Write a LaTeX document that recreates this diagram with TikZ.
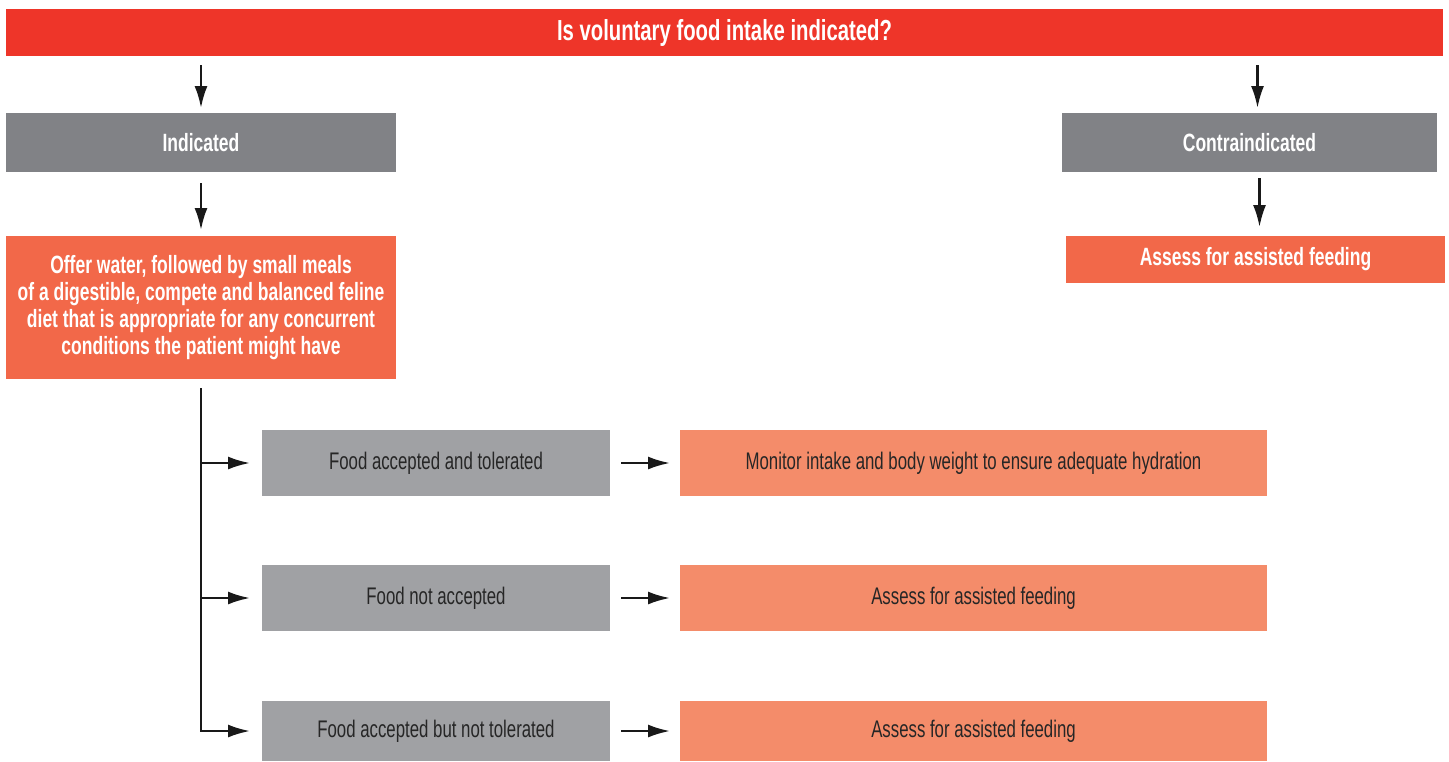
\documentclass[tikz,border=0pt]{standalone}
\usepackage{fontspec}
\setmainfont{Liberation Sans}[FakeStretch=0.7]
\usetikzlibrary{arrows.meta}
\definecolor{topred}{HTML}{EE3529}
\definecolor{darkgrey}{HTML}{818286}
\definecolor{lightgrey}{HTML}{A0A1A4}
\definecolor{offer}{HTML}{F26849}
\definecolor{salmon}{HTML}{F48C6A}
\begin{document}
\begin{tikzpicture}[x=0.5pt, y=-0.5pt,
    box/.style = {anchor=north west, inner sep=0pt, outer sep=0pt, align=center},
    head/.style = {box, text=white, font=\bfseries\fontsize{12.5}{13.5}\selectfont},
    sub/.style = {box, fill=lightgrey, text=black!85, minimum width=174pt, minimum height=33pt, font=\fontsize{12}{13}\selectfont},
    act/.style = {box, fill=salmon, text=black!85, minimum width=293.5pt, minimum height=33pt, font=\fontsize{12}{13}\selectfont},
    arr/.style = {-{Latex[length=11pt, width=6.5pt]}, line width=1.2pt, black!90}]
    \useasboundingbox (0,0) rectangle (1449,761);
    \node[head, fill=topred, minimum width=718.5pt, minimum height=23.5pt, font=\bfseries\fontsize{14.5}{15}\selectfont] (q) at (6,9) {Is voluntary food intake indicated?};
    \node[head, fill=darkgrey, minimum width=195pt, minimum height=29.5pt] (ind) at (6,113) {Indicated};
    \node[head, fill=darkgrey, minimum width=187.5pt, minimum height=29.5pt] (contra) at (1062,113) {Contraindicated};
    \node[head, fill=offer, minimum width=195pt, minimum height=71.5pt] (offer) at (6,236) {Offer water, followed by small meals\\of a digestible, compete and balanced feline\\diet that is appropriate for any concurrent\\conditions the patient might have};
    \node[head, fill=offer, minimum width=189.5pt, minimum height=23.5pt] (assess) at (1066,236) {Assess for assisted feeding};
    % responses to the meal
    \node[sub] (ok) at (262,430) {Food accepted and tolerated};
    \node[sub] (notacc) at (262,565) {Food not accepted};
    \node[sub, minimum height=30pt] (nottol) at (262,701) {Food accepted but not tolerated};
    \node[act] (monitor) at (680,430) {Monitor intake and body weight to ensure adequate hydration};
    \node[act] (af1) at (680,565) {Assess for assisted feeding};
    \node[act, minimum height=30pt] (af2) at (680,701) {Assess for assisted feeding};
    \draw[arr, shorten <=4.5pt, shorten >=2.5pt] (q.south -| ind.north) -- (ind.north);
    \draw[arr, shorten <=4.5pt, shorten >=2.5pt, transform canvas={xshift=4pt}] (q.south -| contra.north) -- (contra.north);
    \draw[arr, shorten <=5.5pt, shorten >=3pt] (ind.south) -- (ind.south |- offer.north);
    \draw[arr, shorten <=3pt, shorten >=4.5pt, transform canvas={xshift=5pt}] (contra.south) -- (contra.south |- assess.north);
    \draw[arr, shorten <=4.5pt, shorten >=6pt] (offer.south) |- (ok.west);
    \draw[arr, shorten <=4.5pt, shorten >=6pt] (offer.south) |- (notacc.west);
    \draw[arr, shorten <=4.5pt, shorten >=6pt] (offer.south) |- (nottol.west);
    \draw[arr, shorten <=5.5pt, shorten >=5pt] (ok) -- (monitor);
    \draw[arr, shorten <=5.5pt, shorten >=5pt] (notacc) -- (af1);
    \draw[arr, shorten <=5.5pt, shorten >=5pt] (nottol) -- (af2);
\end{tikzpicture}
\end{document}
